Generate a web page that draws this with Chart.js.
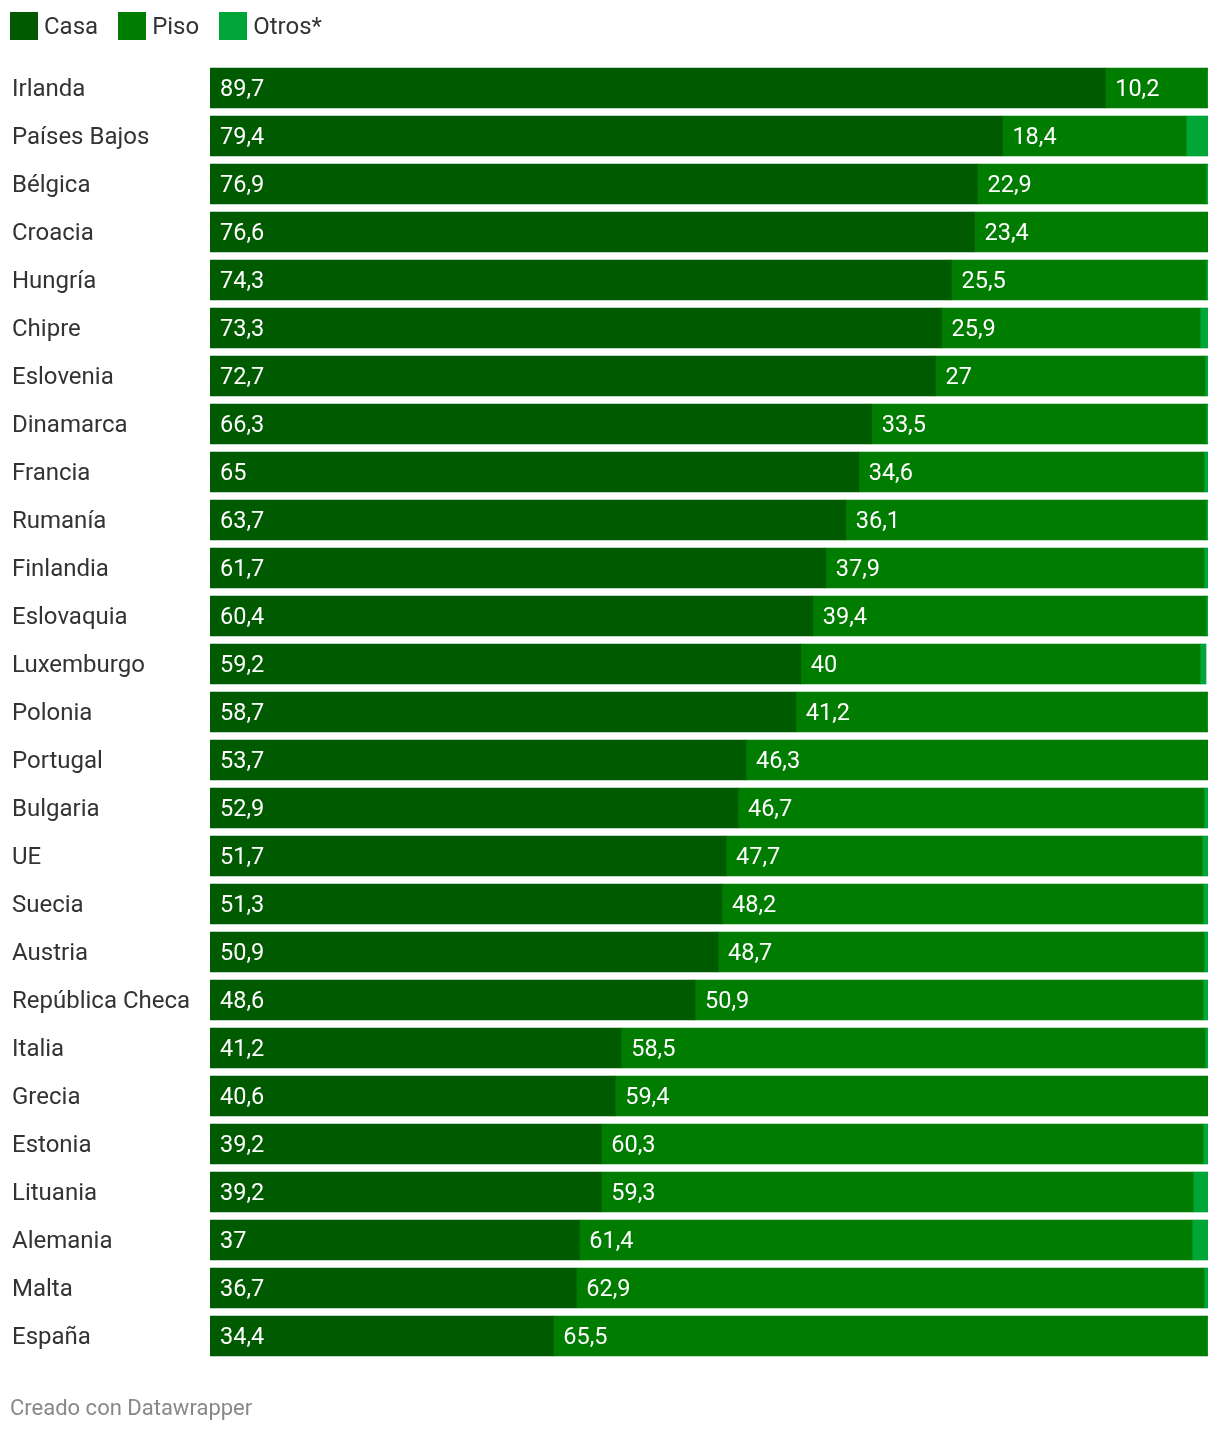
<!DOCTYPE html>
<html>
<head>
<meta charset="utf-8">
<script src="https://cdn.jsdelivr.net/npm/chart.js@4"></script>
<style>
  html, body { margin: 0; padding: 0; background: #fff; }
  body { width: 1220px; height: 1434px; position: relative; font-family: Roboto, sans-serif; }
  #wrap { position: absolute; left: 0; top: 0; width: 1220px; height: 1434px; }
  .legend { position: absolute; top: 12px; left: 10px; display: flex; align-items: center; font-size: 24px; color: #333; }
  .legend span.sw { display: inline-block; width: 28px; height: 28px; margin-right: 6px; }
  .legend .item { display: flex; align-items: center; margin-right: 20px; }
  .footer { position: absolute; left: 10px; top: 1395px; font-size: 22px; color: #888; }
</style>
</head>
<body>
<div id="wrap"><canvas id="chart" width="1220" height="1434"></canvas></div>
<div class="legend" id="legend"></div>
<div class="footer">Creado con Datawrapper</div>
<script>
// datos
var paises = ['Irlanda', 'Países Bajos', 'Bélgica', 'Croacia', 'Hungría', 'Chipre', 'Eslovenia',
  'Dinamarca', 'Francia', 'Rumanía', 'Finlandia', 'Eslovaquia', 'Luxemburgo', 'Polonia',
  'Portugal', 'Bulgaria', 'UE', 'Suecia', 'Austria', 'República Checa', 'Italia', 'Grecia',
  'Estonia', 'Lituania', 'Alemania', 'Malta', 'España'];
var casa = [89.7, 79.4, 76.9, 76.6, 74.3, 73.3, 72.7, 66.3, 65, 63.7, 61.7, 60.4, 59.2, 58.7,
  53.7, 52.9, 51.7, 51.3, 50.9, 48.6, 41.2, 40.6, 39.2, 39.2, 37, 36.7, 34.4];
var piso = [10.2, 18.4, 22.9, 23.4, 25.5, 25.9, 27, 33.5, 34.6, 36.1, 37.9, 39.4, 40, 41.2,
  46.3, 46.7, 47.7, 48.2, 48.7, 50.9, 58.5, 59.4, 60.3, 59.3, 61.4, 62.9, 65.5];
var otros = [0.1, 2.2, 0.2, 0, 0.2, 0.8, 0.3, 0.2, 0.4, 0.2, 0.4, 0.2, 0.6, 0.1,
  0, 0.4, 0.6, 0.5, 0.4, 0.5, 0.3, 0, 0.5, 1.5, 1.6, 0.4, 0.1];
var series = ['Casa', 'Piso', 'Otros*'];
var colores = ['#005a00', '#007d00', '#00a537'];

// leyenda en HTML
var legend = document.getElementById('legend');
series.forEach(function(nombre, i) {
  var item = document.createElement('div');
  item.className = 'item';
  item.innerHTML = '<span class="sw" style="background:' + colores[i] + '"></span>' + nombre;
  legend.appendChild(item);
});

// etiquetas de valor dentro de las barras
var etiquetas = {
  id: 'etiquetas',
  afterDatasetsDraw: function(chart) {
    var ctx = chart.ctx;
    ctx.save();
    ctx.font = '23.5px Roboto';
    ctx.fillStyle = '#ffffff';
    ctx.textBaseline = 'middle';
    ctx.textAlign = 'left';
    [0, 1].forEach(function(di) {
      var meta = chart.getDatasetMeta(di);
      meta.data.forEach(function(bar, i) {
        var v = chart.data.datasets[di].data[i];
        if (!v) return;
        var x0 = Math.min(bar.x, bar.base);
        ctx.fillText(String(v).replace('.', ','), x0 + 10, bar.y + 2);
      });
    });
    ctx.restore();
  }
};

var ctx = document.getElementById('chart').getContext('2d');
var grafico = new Chart(ctx, {
  type: 'bar',
  data: {
    labels: paises,
    datasets: [
      { label: series[0], data: casa, backgroundColor: colores[0] },
      { label: series[1], data: piso, backgroundColor: colores[1] },
      { label: series[2], data: otros, backgroundColor: colores[2] }
    ]
  },
  options: {
    indexAxis: 'y',
    responsive: false,
    animation: false,
    layout: { padding: { top: 64, bottom: 74, left: 12, right: 12 } },
    datasets: { bar: { barThickness: 40, borderWidth: 0 } },
    scales: {
      x: { stacked: true, min: 0, max: 100, display: false },
      y: {
        stacked: true,
        grid: { display: false },
        border: { display: false },
        ticks: {
          crossAlign: 'far',
          padding: 0,
          labelOffset: 2,
          color: '#333',
          font: { family: 'Roboto', size: 24 }
        },
        afterFit: function(scale) { scale.width = 198; }
      }
    },
    plugins: {
      legend: { display: false },
      tooltip: { enabled: false }
    }
  },
  plugins: [etiquetas]
});
</script>
</body>
</html>
